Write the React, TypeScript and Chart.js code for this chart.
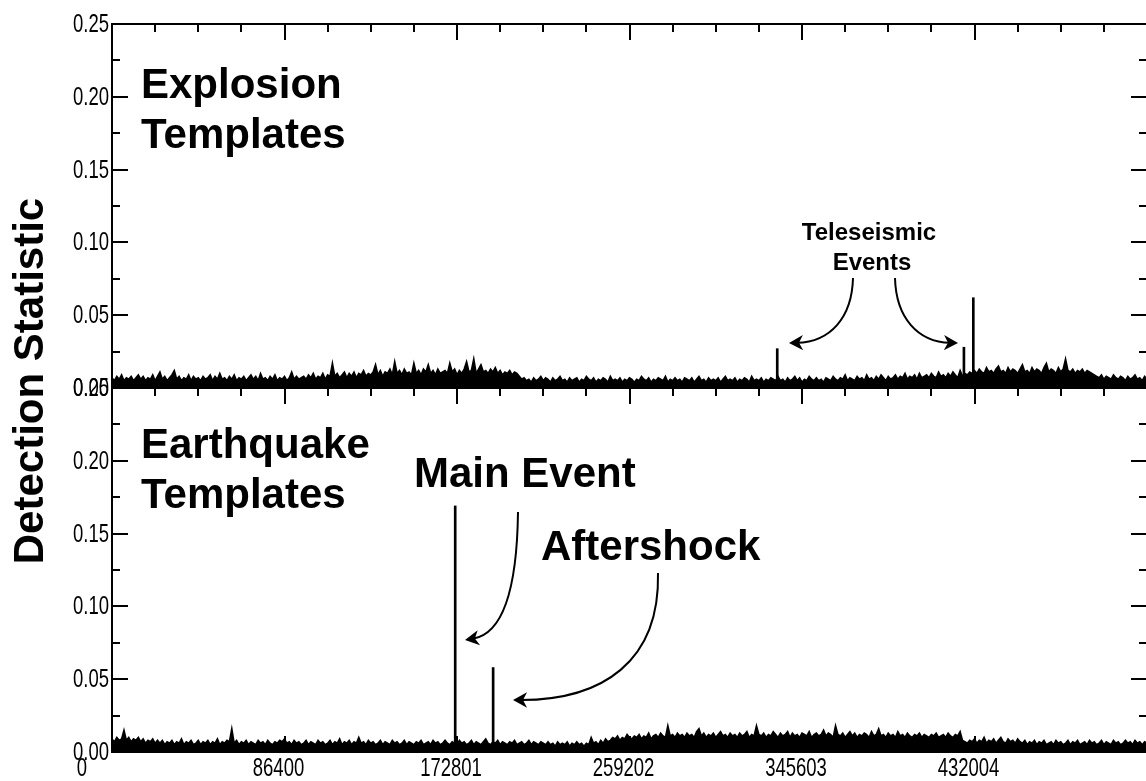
import React, { useEffect, useRef } from "react";
import { Chart, registerables } from "chart.js";

Chart.register(...registerables);

// ---------------- DATA ----------------
// sample spacing of the decimated detection-statistic traces (seconds)
const SAMPLE_STEP = 1200;
const X_MIN = 0;
const X_MAX = 518400;
const Y_MIN = 0;
const Y_MAX = 0.25;

// x-axis tick labels (seconds)
const X_TICK_LABELS = [0, 86400, 172801, 259202, 345603, 432004];
const X_MAJOR_TICKS = [0, 86400, 172801, 259202, 345603, 432004, 518405];
const X_MINOR_STEP = 21600;
// y-axis ticks
const Y_TICK_LABELS = [0.0, 0.05, 0.1, 0.15, 0.2, 0.25];
const Y_MINOR_TICKS = [0.025, 0.075, 0.125, 0.175, 0.225];

// Explosion-template detection statistic (upper envelope per sample)
const EXPLOSION_NOISE = [
  0.007, 0.005, 0.008, 0.006, 0.009, 0.005, 0.007, 0.006, 0.008, 0.005, 0.007, 0.009, 0.006, 0.008, 0.005, 0.007, 0.006, 0.009, 0.005, 0.008,
  0.011, 0.006, 0.008, 0.005, 0.007, 0.009, 0.012, 0.006, 0.008, 0.005, 0.007, 0.006, 0.009, 0.005, 0.008, 0.006, 0.007, 0.005, 0.008, 0.006,
  0.007, 0.009, 0.005, 0.008, 0.006, 0.010, 0.006, 0.007, 0.005, 0.008, 0.006, 0.009, 0.005, 0.007, 0.006, 0.008, 0.005, 0.007, 0.009, 0.006,
  0.008, 0.005, 0.010, 0.006, 0.007, 0.005, 0.008, 0.006, 0.009, 0.005, 0.007, 0.006, 0.008, 0.005, 0.007, 0.011, 0.006, 0.008, 0.006, 0.007,
  0.008, 0.006, 0.009, 0.007, 0.010, 0.006, 0.008, 0.007, 0.010, 0.006, 0.009, 0.008, 0.017, 0.008, 0.010, 0.007, 0.009, 0.011, 0.007, 0.010,
  0.008, 0.011, 0.007, 0.010, 0.009, 0.012, 0.008, 0.010, 0.009, 0.011, 0.016, 0.009, 0.012, 0.008, 0.011, 0.010, 0.013, 0.009, 0.018, 0.010,
  0.012, 0.009, 0.013, 0.010, 0.011, 0.009, 0.017, 0.010, 0.012, 0.009, 0.013, 0.011, 0.016, 0.010, 0.012, 0.009, 0.013, 0.010, 0.011, 0.012,
  0.010, 0.017, 0.011, 0.013, 0.009, 0.012, 0.010, 0.013, 0.018, 0.011, 0.012, 0.020, 0.010, 0.013, 0.016, 0.011, 0.012, 0.010, 0.013, 0.011,
  0.014, 0.010, 0.012, 0.009, 0.011, 0.010, 0.012, 0.009, 0.011, 0.010, 0.008, 0.006, 0.007, 0.005, 0.006, 0.004, 0.007, 0.005, 0.006, 0.008,
  0.005, 0.007, 0.006, 0.004, 0.007, 0.005, 0.006, 0.008, 0.005, 0.006, 0.004, 0.007, 0.005, 0.006, 0.007, 0.004, 0.006, 0.005, 0.008, 0.006,
  0.005, 0.007, 0.004, 0.006, 0.005, 0.007, 0.006, 0.004, 0.008, 0.005, 0.006, 0.005, 0.007, 0.004, 0.006, 0.005, 0.007, 0.006, 0.004, 0.006,
  0.005, 0.008, 0.006, 0.005, 0.007, 0.004, 0.006, 0.005, 0.007, 0.006, 0.005, 0.008, 0.004, 0.006, 0.005, 0.007, 0.005, 0.006, 0.004, 0.007,
  0.006, 0.005, 0.007, 0.004, 0.006, 0.008, 0.005, 0.006, 0.004, 0.007, 0.005, 0.006, 0.005, 0.007, 0.004, 0.006, 0.008, 0.005, 0.006, 0.005,
  0.007, 0.004, 0.006, 0.005, 0.007, 0.006, 0.004, 0.008, 0.005, 0.006, 0.005, 0.007, 0.004, 0.006, 0.005, 0.007, 0.006, 0.005, 0.008, 0.005,
  0.006, 0.004, 0.007, 0.005, 0.006, 0.008, 0.005, 0.007, 0.004, 0.006, 0.005, 0.008, 0.006, 0.005, 0.007, 0.005, 0.006, 0.004, 0.007, 0.006,
  0.005, 0.008, 0.006, 0.005, 0.007, 0.006, 0.009, 0.005, 0.007, 0.006, 0.005, 0.008, 0.006, 0.007, 0.005, 0.009, 0.006, 0.007, 0.005, 0.008,
  0.006, 0.009, 0.007, 0.005, 0.008, 0.006, 0.007, 0.009, 0.006, 0.008, 0.007, 0.010, 0.006, 0.008, 0.007, 0.009, 0.006, 0.010, 0.007, 0.008,
  0.009, 0.007, 0.010, 0.008, 0.007, 0.011, 0.008, 0.009, 0.007, 0.010, 0.008, 0.011, 0.009, 0.007, 0.012, 0.008, 0.010, 0.009, 0.011, 0.010,
  0.012, 0.010, 0.013, 0.011, 0.010, 0.014, 0.011, 0.012, 0.010, 0.013, 0.015, 0.011, 0.012, 0.010, 0.014, 0.011, 0.013, 0.012, 0.010, 0.013,
  0.016, 0.011, 0.012, 0.010, 0.014, 0.011, 0.013, 0.012, 0.010, 0.014, 0.017, 0.011, 0.013, 0.012, 0.010, 0.014, 0.011, 0.013, 0.020, 0.012,
  0.011, 0.013, 0.010, 0.012, 0.011, 0.013, 0.010, 0.012, 0.011, 0.010, 0.009, 0.008, 0.007, 0.009, 0.006, 0.008, 0.007, 0.006, 0.009, 0.007,
  0.006, 0.008, 0.007, 0.005, 0.008, 0.006, 0.007, 0.009, 0.006, 0.007, 0.005, 0.008, 0.006,
];

// Earthquake-template detection statistic (upper envelope per sample)
const EARTHQUAKE_NOISE = [
  0.009, 0.007, 0.010, 0.008, 0.009, 0.015, 0.008, 0.010, 0.007, 0.009, 0.008, 0.010, 0.007, 0.009, 0.006, 0.008, 0.007, 0.009, 0.006, 0.008,
  0.006, 0.008, 0.005, 0.007, 0.006, 0.008, 0.005, 0.007, 0.006, 0.009, 0.005, 0.007, 0.006, 0.008, 0.005, 0.006, 0.008, 0.005, 0.007, 0.006,
  0.008, 0.005, 0.007, 0.006, 0.009, 0.005, 0.007, 0.006, 0.008, 0.007, 0.016, 0.006, 0.008, 0.005, 0.007, 0.006, 0.008, 0.005, 0.007, 0.006,
  0.005, 0.008, 0.006, 0.007, 0.005, 0.008, 0.006, 0.005, 0.007, 0.006, 0.008, 0.007, 0.009, 0.006, 0.007, 0.005, 0.008, 0.006, 0.007, 0.005,
  0.006, 0.008, 0.005, 0.007, 0.006, 0.005, 0.008, 0.006, 0.007, 0.005, 0.006, 0.008, 0.005, 0.007, 0.006, 0.009, 0.005, 0.007, 0.006, 0.008,
  0.005, 0.007, 0.006, 0.010, 0.006, 0.007, 0.005, 0.008, 0.006, 0.007, 0.005, 0.006, 0.008, 0.005, 0.007, 0.006, 0.005, 0.008, 0.006, 0.007,
  0.005, 0.006, 0.008, 0.005, 0.007, 0.006, 0.005, 0.007, 0.006, 0.008, 0.005, 0.006, 0.007, 0.005, 0.008, 0.006, 0.007, 0.005, 0.006, 0.008,
  0.006, 0.005, 0.007, 0.006, 0.005, 0.008, 0.006, 0.007, 0.005, 0.006, 0.008, 0.005, 0.007, 0.006, 0.005, 0.007, 0.009, 0.006, 0.005, 0.007,
  0.006, 0.008, 0.005, 0.007, 0.006, 0.005, 0.007, 0.006, 0.008, 0.005, 0.006, 0.007, 0.005, 0.006, 0.008, 0.005, 0.007, 0.006, 0.005, 0.007,
  0.006, 0.005, 0.007, 0.005, 0.006, 0.004, 0.007, 0.005, 0.006, 0.005, 0.007, 0.004, 0.006, 0.005, 0.007, 0.005, 0.006, 0.004, 0.006, 0.005,
  0.010, 0.006, 0.007, 0.005, 0.008, 0.006, 0.009, 0.007, 0.008, 0.010, 0.009, 0.011, 0.008, 0.010, 0.009, 0.012, 0.010, 0.009, 0.011, 0.010,
  0.012, 0.009, 0.011, 0.010, 0.013, 0.009, 0.011, 0.012, 0.010, 0.013, 0.011, 0.010, 0.018, 0.011, 0.012, 0.010, 0.013, 0.011, 0.012, 0.010,
  0.013, 0.011, 0.012, 0.010, 0.014, 0.016, 0.011, 0.013, 0.010, 0.012, 0.011, 0.013, 0.010, 0.012, 0.014, 0.011, 0.012, 0.010, 0.013, 0.011,
  0.012, 0.010, 0.013, 0.011, 0.012, 0.014, 0.010, 0.012, 0.011, 0.018, 0.012, 0.011, 0.013, 0.010, 0.012, 0.011, 0.014, 0.012, 0.010, 0.013,
  0.011, 0.012, 0.014, 0.010, 0.013, 0.011, 0.012, 0.010, 0.013, 0.012, 0.011, 0.014, 0.010, 0.012, 0.013, 0.011, 0.012, 0.015, 0.011, 0.013,
  0.012, 0.010, 0.018, 0.012, 0.011, 0.013, 0.010, 0.012, 0.014, 0.011, 0.013, 0.010, 0.012, 0.011, 0.013, 0.012, 0.010, 0.014, 0.011, 0.012,
  0.016, 0.011, 0.012, 0.010, 0.013, 0.011, 0.012, 0.010, 0.014, 0.011, 0.012, 0.010, 0.013, 0.011, 0.010, 0.012, 0.011, 0.013, 0.010, 0.012,
  0.011, 0.010, 0.012, 0.011, 0.013, 0.010, 0.011, 0.012, 0.010, 0.013, 0.011, 0.010, 0.012, 0.011, 0.014, 0.008, 0.007, 0.006, 0.008, 0.007,
  0.009, 0.006, 0.008, 0.007, 0.010, 0.006, 0.008, 0.007, 0.009, 0.006, 0.008, 0.010, 0.007, 0.006, 0.009, 0.007, 0.008, 0.006, 0.009, 0.007,
  0.006, 0.008, 0.005, 0.007, 0.006, 0.008, 0.005, 0.007, 0.006, 0.008, 0.005, 0.006, 0.007, 0.005, 0.008, 0.006, 0.007, 0.005, 0.006, 0.008,
  0.005, 0.007, 0.006, 0.008, 0.005, 0.006, 0.007, 0.005, 0.008, 0.006, 0.007, 0.005, 0.006, 0.008, 0.005, 0.007, 0.006, 0.005, 0.008, 0.006,
  0.007, 0.005, 0.006, 0.008, 0.006, 0.007, 0.005, 0.008, 0.006, 0.007, 0.005, 0.007, 0.006,
];

// isolated detections (time in seconds, detection statistic)
const EXPLOSION_SPIKE_TIMES = [333200, 426700, 431400];
const EXPLOSION_SPIKE_VALUES = [0.027, 0.028, 0.062];
const EARTHQUAKE_SPIKE_TIMES = [171900, 190900];
const EARTHQUAKE_SPIKE_VALUES = [0.169, 0.058];

// ---------------- STYLE ----------------
const W = 1150;
const H = 781;
const TICK_FONT = '25px "Liberation Sans", Arial, sans-serif';
const TICK_SQUEEZE = 0.74;
const BOLD_FONT = '"Liberation Sans", Arial, Helvetica, sans-serif';

type Panel = "top" | "bottom";

function line(ctx: CanvasRenderingContext2D, x1: number, y1: number, x2: number, y2: number) {
  ctx.beginPath();
  ctx.moveTo(x1, y1);
  ctx.lineTo(x2, y2);
  ctx.stroke();
}

function squeezedText(ctx: CanvasRenderingContext2D, text: string, x: number, y: number, align: CanvasTextAlign) {
  ctx.save();
  ctx.translate(x, y);
  ctx.scale(TICK_SQUEEZE, 1);
  ctx.font = TICK_FONT;
  ctx.textAlign = align;
  ctx.textBaseline = "middle";
  ctx.fillText(text, 0, 0);
  ctx.restore();
}

function curvedArrow(
  ctx: CanvasRenderingContext2D,
  p0: [number, number],
  c1: [number, number],
  c2: [number, number],
  p3: [number, number]
) {
  ctx.save();
  ctx.strokeStyle = "#000";
  ctx.fillStyle = "#000";
  ctx.lineWidth = 2;
  const ang = Math.atan2(p3[1] - c2[1], p3[0] - c2[0]);
  const headLen = 16;
  const sx = p3[0] - Math.cos(ang) * 8;
  const sy = p3[1] - Math.sin(ang) * 8;
  ctx.beginPath();
  ctx.moveTo(p0[0], p0[1]);
  ctx.bezierCurveTo(c1[0], c1[1], c2[0], c2[1], sx, sy);
  ctx.stroke();
  const spread = 0.5;
  const bx1 = p3[0] - Math.cos(ang - spread) * headLen;
  const by1 = p3[1] - Math.sin(ang - spread) * headLen;
  const bx2 = p3[0] - Math.cos(ang + spread) * headLen;
  const by2 = p3[1] - Math.sin(ang + spread) * headLen;
  const nx = p3[0] - Math.cos(ang) * 10;
  const ny = p3[1] - Math.sin(ang) * 10;
  ctx.beginPath();
  ctx.moveTo(p3[0], p3[1]);
  ctx.lineTo(bx1, by1);
  ctx.lineTo(nx, ny);
  ctx.lineTo(bx2, by2);
  ctx.closePath();
  ctx.fill();
  ctx.restore();
}

function makeFramePlugin(panel: Panel) {
  return {
    id: "frame_" + panel,
    afterDatasetsDraw(chart: any) {
      const ctx: CanvasRenderingContext2D = chart.ctx;
      const a = chart.chartArea;
      const xs = chart.scales.x;
      const ys = chart.scales.y;
      ctx.save();
      ctx.strokeStyle = "#000";
      ctx.fillStyle = "#000";
      ctx.lineWidth = 2;
      // frame
      line(ctx, a.left, a.top, a.right, a.top);
      line(ctx, a.left, a.top - 1, a.left, a.bottom + 1);
      line(ctx, a.right, a.top, a.right, a.bottom);
      if (panel === "bottom") line(ctx, a.left, a.bottom, a.right, a.bottom);

      // y ticks (inward, both sides) + labels
      Y_TICK_LABELS.forEach((v) => {
        const y = Math.round(ys.getPixelForValue(v));
        line(ctx, a.left, y, a.left + 16, y);
        line(ctx, a.right, y, a.right - 16, y);
        squeezedText(ctx, v.toFixed(2), a.left - 3, y + 1, "right");
      });
      Y_MINOR_TICKS.forEach((v) => {
        const y = Math.round(ys.getPixelForValue(v));
        line(ctx, a.left, y, a.left + 8, y);
        line(ctx, a.right, y, a.right - 8, y);
      });

      // x ticks (inward)
      X_MAJOR_TICKS.forEach((m, idx) => {
        const xm = Math.round(xs.getPixelForValue(m));
        line(ctx, xm, a.top, xm, a.top + 16);
        if (panel === "bottom") line(ctx, xm, a.bottom, xm, a.bottom - 16);
        if (idx < X_MAJOR_TICKS.length - 1) {
          for (let q = 1; q < 4; q++) {
            const xq = Math.round(xs.getPixelForValue(m + q * X_MINOR_STEP));
            line(ctx, xq, a.top, xq, a.top + 8);
            if (panel === "bottom") line(ctx, xq, a.bottom, xq, a.bottom - 8);
          }
        }
      });

      if (panel === "top") {
        ctx.textAlign = "left";
        ctx.textBaseline = "alphabetic";
        ctx.font = `bold 42px ${BOLD_FONT}`;
        ctx.fillText("Explosion", 141, 98);
        ctx.fillText("Templates", 141, 148);
        ctx.font = `bold 24px ${BOLD_FONT}`;
        ctx.textAlign = "center";
        ctx.fillText("Teleseismic", 869, 240);
        ctx.fillText("Events", 872, 270);
        curvedArrow(ctx, [853, 278], [852, 318], [830, 342], [789, 343]);
        curvedArrow(ctx, [895, 278], [896, 318], [918, 342], [958, 343]);
      } else {
        ctx.textAlign = "left";
        ctx.textBaseline = "alphabetic";
        ctx.font = `bold 42px ${BOLD_FONT}`;
        ctx.fillText("Earthquake", 141, 458);
        ctx.fillText("Templates", 141, 508);
        ctx.fillText("Main Event", 414, 487);
        ctx.fillText("Aftershock", 541, 560);
        curvedArrow(ctx, [518, 512], [517, 592], [502, 634], [465, 640]);
        curvedArrow(ctx, [658, 573], [660, 662], [602, 700], [513, 700]);

        // x tick labels
        X_TICK_LABELS.forEach((v) => {
          const px = xs.getPixelForValue(v) + (v === 0 ? -30 : -6);
          squeezedText(ctx, String(v), px, a.bottom + 17, "center");
        });

        // y-axis title
        ctx.save();
        ctx.translate(43, 381);
        ctx.rotate(-Math.PI / 2);
        ctx.font = `bold 42px ${BOLD_FONT}`;
        ctx.textAlign = "center";
        ctx.textBaseline = "alphabetic";
        ctx.fillText("Detection Statistic", 0, 0);
        ctx.restore();
      }
      ctx.restore();
    },
  };
}

function buildChart(canvas: HTMLCanvasElement, panel: Panel) {
  const noise = panel === "top" ? EXPLOSION_NOISE : EARTHQUAKE_NOISE;
  const spikeT = panel === "top" ? EXPLOSION_SPIKE_TIMES : EARTHQUAKE_SPIKE_TIMES;
  const spikeV = panel === "top" ? EXPLOSION_SPIKE_VALUES : EARTHQUAKE_SPIKE_VALUES;
  const noisePts = noise.map((v, i) => ({ x: i * SAMPLE_STEP, y: v }));
  const spikePts = spikeT.map((t, i) => ({ x: t, y: spikeV[i] }));
  const padding =
    panel === "top"
      ? { left: 0, right: 3, top: 24, bottom: H - 388 }
      : { left: 0, right: 3, top: 388, bottom: H - 752 };

  return new Chart(canvas, {
    type: "line",
    data: {
      datasets: [
        {
          type: "bar",
          data: spikePts as any,
          backgroundColor: "#000",
          borderWidth: 0,
          barThickness: 2,
          order: 1,
        } as any,
        {
          type: "line",
          data: noisePts as any,
          borderColor: "#000",
          backgroundColor: "#000",
          borderWidth: 1.6,
          pointRadius: 0,
          fill: "origin",
          tension: 0,
          order: 2,
        } as any,
      ],
    },
    options: {
      animation: false,
      responsive: false,
      devicePixelRatio: 1,
      events: [],
      layout: { padding },
      plugins: {
        legend: { display: false },
        tooltip: { enabled: false },
        title: { display: false },
      },
      scales: {
        x: {
          type: "linear",
          min: X_MIN,
          max: X_MAX,
          offset: false,
          display: false,
        },
        y: {
          type: "linear",
          min: Y_MIN,
          max: Y_MAX,
          afterFit: (s: any) => {
            s.width = 112;
          },
          grid: { display: false, drawTicks: false },
          border: { display: false },
          ticks: { display: false, stepSize: 0.05 },
        },
      },
    } as any,
    plugins: [makeFramePlugin(panel)],
  });
}

export default function App() {
  const topRef = useRef<HTMLCanvasElement>(null);
  const botRef = useRef<HTMLCanvasElement>(null);

  useEffect(() => {
    const c1 = buildChart(topRef.current as HTMLCanvasElement, "top");
    const c2 = buildChart(botRef.current as HTMLCanvasElement, "bottom");
    return () => {
      c1.destroy();
      c2.destroy();
    };
  }, []);

  const canvasStyle: React.CSSProperties = {
    position: "absolute",
    left: 0,
    top: 0,
    width: W,
    height: H,
  };

  return (
    <div
      style={{
        position: "fixed",
        left: 0,
        top: 0,
        width: 1146,
        height: 781,
        overflow: "hidden",
        background: "#fff",
      }}
    >
      <canvas ref={topRef} width={W} height={H} style={canvasStyle} />
      <canvas ref={botRef} width={W} height={H} style={canvasStyle} />
    </div>
  );
}
